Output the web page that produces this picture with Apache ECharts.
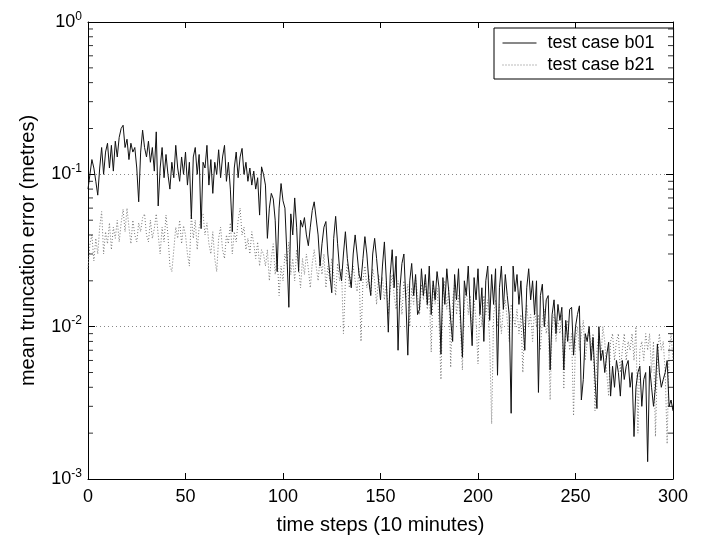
<!DOCTYPE html>
<html><head><meta charset="utf-8">
<script src="https://cdn.jsdelivr.net/npm/echarts@6/dist/echarts.min.js"></script>
<style>html,body{margin:0;padding:0;background:#fff}#c{width:708px;height:540px}</style>
</head><body><div id="c"></div>
<script>
// test case b01 (solid), steps 0..300
const b01 = [
0.080,0.100,0.125,0.110,0.090,0.073,0.110,0.150,0.100,0.140,
0.160,0.110,0.155,0.105,0.165,0.130,0.175,0.200,0.210,0.150,
0.170,0.125,0.160,0.140,0.150,0.110,0.066,0.140,0.195,0.150,
0.130,0.165,0.120,0.150,0.105,0.190,0.062,0.110,0.150,0.095,
0.135,0.100,0.080,0.120,0.095,0.155,0.110,0.090,0.130,0.100,
0.140,0.085,0.120,0.051,0.130,0.150,0.100,0.135,0.044,0.120,
0.110,0.155,0.085,0.125,0.075,0.120,0.100,0.145,0.095,0.130,
0.155,0.090,0.120,0.080,0.042,0.110,0.140,0.095,0.130,0.148,
0.100,0.120,0.090,0.110,0.085,0.105,0.080,0.095,0.054,0.112,
0.100,0.085,0.038,0.060,0.075,0.069,0.050,0.023,0.060,0.087,
0.067,0.060,0.030,0.0134,0.055,0.040,0.070,0.045,0.023,0.050,
0.045,0.052,0.040,0.034,0.045,0.058,0.066,0.068,0.040,0.025,
0.035,0.045,0.049,0.030,0.022,0.0167,0.038,0.053,0.035,0.024,
0.020,0.030,0.042,0.028,0.022,0.018,0.030,0.040,0.030,0.022,
0.020,0.028,0.039,0.030,0.020,0.016,0.030,0.038,0.028,0.020,
0.015,0.025,0.036,0.020,0.0092,0.022,0.032,0.018,0.029,0.007,
0.018,0.026,0.030,0.015,0.0065,0.020,0.026,0.016,0.022,0.012,
0.013,0.024,0.016,0.022,0.014,0.025,0.012,0.020,0.015,0.023,
0.018,0.0066,0.021,0.014,0.024,0.017,0.011,0.008,0.022,0.015,
0.024,0.012,0.0063,0.020,0.016,0.025,0.013,0.0075,0.021,0.015,
0.024,0.012,0.018,0.008,0.020,0.025,0.011,0.022,0.014,0.024,
0.0048,0.018,0.025,0.013,0.022,0.016,0.012,0.0027,0.025,0.017,
0.022,0.014,0.020,0.011,0.007,0.018,0.024,0.015,0.020,0.012,
0.020,0.0037,0.016,0.019,0.010,0.015,0.016,0.0052,0.012,0.015,
0.009,0.014,0.011,0.0134,0.0052,0.011,0.008,0.013,0.0134,0.0065,
0.010,0.012,0.0137,0.0033,0.0045,0.009,0.008,0.010,0.006,0.0085,
0.0045,0.0029,0.010,0.006,0.007,0.005,0.0065,0.0079,0.0035,0.0055,
0.004,0.006,0.005,0.0035,0.006,0.0045,0.0055,0.006,0.004,0.005,
0.0019,0.004,0.005,0.0055,0.003,0.0045,0.005,0.0013,0.0055,0.004,
0.003,0.004,0.0077,0.005,0.004,0.0045,0.005,0.006,0.003,0.0033,0.0028
];
// test case b21 (dotted), steps 0..300
const b21 = [
0.024,0.035,0.040,0.027,0.038,0.030,0.045,0.057,0.030,0.042,
0.035,0.048,0.032,0.045,0.038,0.050,0.036,0.048,0.059,0.042,
0.060,0.045,0.035,0.050,0.040,0.036,0.048,0.042,0.052,0.055,
0.040,0.036,0.050,0.038,0.044,0.055,0.040,0.030,0.045,0.036,
0.054,0.040,0.025,0.023,0.032,0.045,0.038,0.050,0.035,0.046,
0.040,0.030,0.025,0.055,0.038,0.050,0.032,0.045,0.052,0.055,
0.040,0.048,0.035,0.030,0.042,0.028,0.023,0.038,0.045,0.032,
0.028,0.040,0.035,0.048,0.030,0.042,0.036,0.050,0.060,0.040,
0.045,0.032,0.038,0.030,0.042,0.035,0.028,0.036,0.025,0.032,
0.030,0.025,0.032,0.020,0.028,0.035,0.022,0.030,0.016,0.025,
0.020,0.030,0.026,0.036,0.022,0.028,0.020,0.032,0.025,0.018,
0.028,0.022,0.030,0.024,0.018,0.026,0.032,0.025,0.020,0.028,
0.022,0.030,0.018,0.025,0.020,0.028,0.022,0.016,0.026,0.020,
0.024,0.009,0.020,0.026,0.018,0.022,0.025,0.020,0.017,0.024,
0.008,0.020,0.025,0.018,0.022,0.016,0.024,0.020,0.014,0.022,
0.018,0.021,0.015,0.020,0.012,0.018,0.022,0.016,0.013,0.020,
0.017,0.012,0.020,0.015,0.019,0.010,0.018,0.014,0.021,0.016,
0.012,0.019,0.015,0.020,0.013,0.017,0.0068,0.019,0.014,0.018,
0.011,0.0045,0.016,0.020,0.013,0.018,0.0054,0.015,0.019,0.012,
0.016,0.010,0.0052,0.014,0.018,0.012,0.016,0.009,0.015,0.011,
0.0057,0.014,0.010,0.016,0.012,0.015,0.008,0.0023,0.012,0.015,
0.010,0.014,0.009,0.013,0.015,0.011,0.008,0.014,0.012,0.010,
0.013,0.009,0.012,0.005,0.011,0.014,0.010,0.012,0.008,0.013,
0.010,0.012,0.007,0.011,0.013,0.009,0.011,0.0033,0.010,0.012,
0.008,0.011,0.009,0.012,0.0039,0.010,0.011,0.007,0.009,0.0026,
0.008,0.010,0.007,0.009,0.011,0.006,0.008,0.010,0.007,0.009,
0.0028,0.007,0.009,0.006,0.010,0.008,0.005,0.0035,0.008,0.009,
0.006,0.008,0.009,0.005,0.007,0.009,0.006,0.008,0.007,0.009,
0.006,0.010,0.002,0.007,0.008,0.006,0.009,0.007,0.009,0.005,
0.008,0.0019,0.006,0.009,0.007,0.008,0.005,0.0017,0.007,0.009,0.006
];
const seriesNames = ['test case b01','test case b21'];
const xTicks = [0,50,100,150,200,250,300];
const yMinorTicks = [0.002,0.003,0.004,0.005,0.006,0.007,0.008,0.009,
  0.02,0.03,0.04,0.05,0.06,0.07,0.08,0.09,
  0.2,0.3,0.4,0.5,0.6,0.7,0.8,0.9];

const FONT = '"Liberation Sans", Arial, sans-serif';
const chart = echarts.init(document.getElementById('c'), null, {renderer:'canvas'});
const xMin = xTicks[0], xMax = xTicks[xTicks.length-1], xInt = xTicks[1]-xTicks[0];

const supLabel = {
  show: true, fontFamily: FONT, fontSize: 18, color: '#000', margin: 6,
  formatter: v => '10{sup|' + Math.round(Math.log10(v)) + '}',
  rich: { sup: { fontFamily: FONT, fontSize: 12, color: '#000', verticalAlign: 'bottom', padding: [0,0,11,0] } }
};

const option = {
  animation: false,
  backgroundColor: '#fff',
  grid: { left: 88, right: 35, top: 22, bottom: 57, show: false },
  legend: {
    data: seriesNames,
    orient: 'vertical', left: 494, top: 28,
    width: 178,
    backgroundColor: '#fff', borderColor: '#000', borderWidth: 1,
    padding: [6, 19, 5, 8], itemGap: 4,
    itemWidth: 34, itemHeight: 18,
    itemStyle: { color: 'rgba(0,0,0,0)', borderColor: 'rgba(0,0,0,0)', borderWidth: 0 },
    lineStyle: { width: 1 },
    textStyle: { fontFamily: FONT, fontSize: 18, color: '#000', padding: [0,0,0,6] }
  },
  xAxis: [
    { type: 'value', min: xMin, max: xMax, interval: xInt, position: 'bottom',
      name: 'time steps (10 minutes)', nameLocation: 'middle', nameGap: 36,
      nameTextStyle: { fontFamily: FONT, fontSize: 20, color: '#000' },
      axisLine: { show: true, onZero: false, lineStyle: { color: '#000', width: 1 } },
      axisTick: { show: true, inside: true, length: 6, lineStyle: { color: '#000' } },
      axisLabel: { fontFamily: FONT, fontSize: 18, color: '#000', margin: 9 },
      splitLine: { show: false } },
    { type: 'value', min: xMin, max: xMax, interval: xInt, position: 'top',
      axisLine: { show: true, onZero: false, lineStyle: { color: '#000', width: 1 } },
      axisTick: { show: true, inside: true, length: 6, lineStyle: { color: '#000' } },
      axisLabel: { show: false }, splitLine: { show: false } }
  ],
  yAxis: [
    { type: 'log', logBase: 10, min: 0.001, max: 1, position: 'left',
      name: 'mean truncation error (metres)', nameLocation: 'middle', nameGap: 50,
      nameTextStyle: { fontFamily: FONT, fontSize: 20, color: '#000' },
      axisLine: { show: true, onZero: false, lineStyle: { color: '#000', width: 1 } },
      axisTick: { show: true, inside: true, length: 7, lineStyle: { color: '#000' } },
      axisLabel: supLabel,
      splitLine: { show: true, lineStyle: { color: '#888', type: [1, 3], width: 1 } } },
    { type: 'log', logBase: 10, min: 0.001, max: 1, position: 'right',
      axisLine: { show: true, onZero: false, lineStyle: { color: '#000', width: 1 } },
      axisTick: { show: true, inside: true, length: 7, lineStyle: { color: '#000' } },
      axisLabel: { show: false }, splitLine: { show: false } }
  ],
  series: [
    { name: seriesNames[0], type: 'line', xAxisIndex: 0, yAxisIndex: 0,
      data: b01.map((v, i) => [i, v]), showSymbol: false, symbol: 'none',
      lineStyle: { color: '#111', width: 1 }, itemStyle: { color: '#111' }, z: 3 },
    { name: seriesNames[1], type: 'line', xAxisIndex: 0, yAxisIndex: 0,
      data: b21.map((v, i) => [i, v]), showSymbol: false, symbol: 'none',
      lineStyle: { color: '#777', width: 1, type: [1, 2] }, itemStyle: { color: '#777' }, z: 2 },
    { name: 'minorLeft', type: 'scatter', xAxisIndex: 0, yAxisIndex: 0, silent: true,
      data: yMinorTicks.map(v => [xMin, v]), symbol: 'rect', symbolSize: [5, 1],
      symbolOffset: [2.5, 0], itemStyle: { color: '#000' }, clip: false, z: 5 },
    { name: 'minorRight', type: 'scatter', xAxisIndex: 0, yAxisIndex: 0, silent: true,
      data: yMinorTicks.map(v => [xMax, v]), symbol: 'rect', symbolSize: [5, 1],
      symbolOffset: [-2.5, 0], itemStyle: { color: '#000' }, clip: false, z: 5 }
  ]
};
chart.setOption(option);
</script>
</body></html>
